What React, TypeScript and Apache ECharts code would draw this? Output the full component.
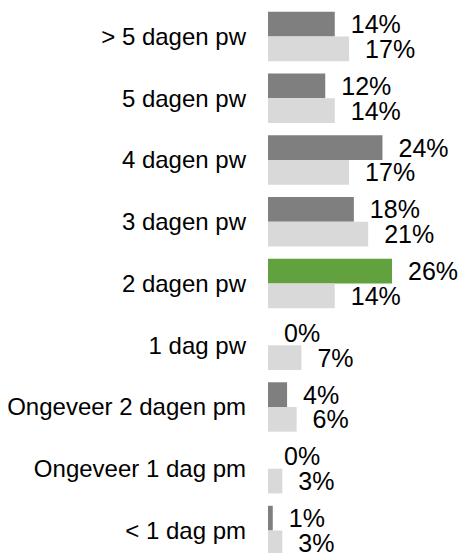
import React, { useEffect, useRef } from "react";
import * as echarts from "echarts";

const categories = [
  "> 5 dagen pw",
  "5 dagen pw",
  "4 dagen pw",
  "3 dagen pw",
  "2 dagen pw",
  "1 dag pw",
  "Ongeveer 2 dagen pm",
  "Ongeveer 1 dag pm",
  "< 1 dag pm",
];
const seriesA = [14, 12, 24, 18, 26, 0, 4, 0, 1];
const seriesB = [17, 14, 17, 21, 14, 7, 6, 3, 3];
const highlightIndex = 4;

const DARK = "#7f7f7f";
const LIGHT = "#d9d9d9";
const GREEN = "#62a23e";
const FONT = "'Liberation Sans', Arial, sans-serif";

export default function App() {
  const ref = useRef<HTMLDivElement>(null);
  useEffect(() => {
    if (!ref.current) return;
    const chart = echarts.init(ref.current, null, { renderer: "svg" });
    const label = {
      show: true,
      position: "right",
      distance: 16,
      color: "#000",
      fontSize: 25,
      lineHeight: 24,
      fontFamily: FONT,
      formatter: (p: any) => Math.round(p.value) + "%",
    };
    chart.setOption({
      animation: false,
      backgroundColor: "#fff",
      grid: { left: 268, top: 5.6, width: 190.8, height: 555.75, containLabel: false },
      xAxis: {
        type: "value",
        min: 0,
        max: 40,
        show: false,
      },
      yAxis: {
        type: "category",
        data: categories,
        inverse: true,
        axisLine: { show: false },
        axisTick: { show: false },
        splitLine: { show: false },
        axisLabel: {
          color: "#000",
          fontSize: 24,
          fontFamily: FONT,
          margin: 22,
        },
      },
      series: [
        {
          type: "bar",
          data: seriesA.map((v, i) =>
            i === highlightIndex ? { value: v, itemStyle: { color: GREEN } } : v
          ),
          itemStyle: { color: DARK },
          barGap: "0%",
          barCategoryGap: "20%",
          label,
        },
        {
          type: "bar",
          data: seriesB,
          itemStyle: { color: LIGHT },
          barGap: "0%",
          barCategoryGap: "20%",
          label,
        },
      ],
    });
    return () => chart.dispose();
  }, []);
  return (
    <div
      ref={ref}
      style={{ position: "fixed", left: 0, top: 0, width: 461, height: 570 }}
    />
  );
}
